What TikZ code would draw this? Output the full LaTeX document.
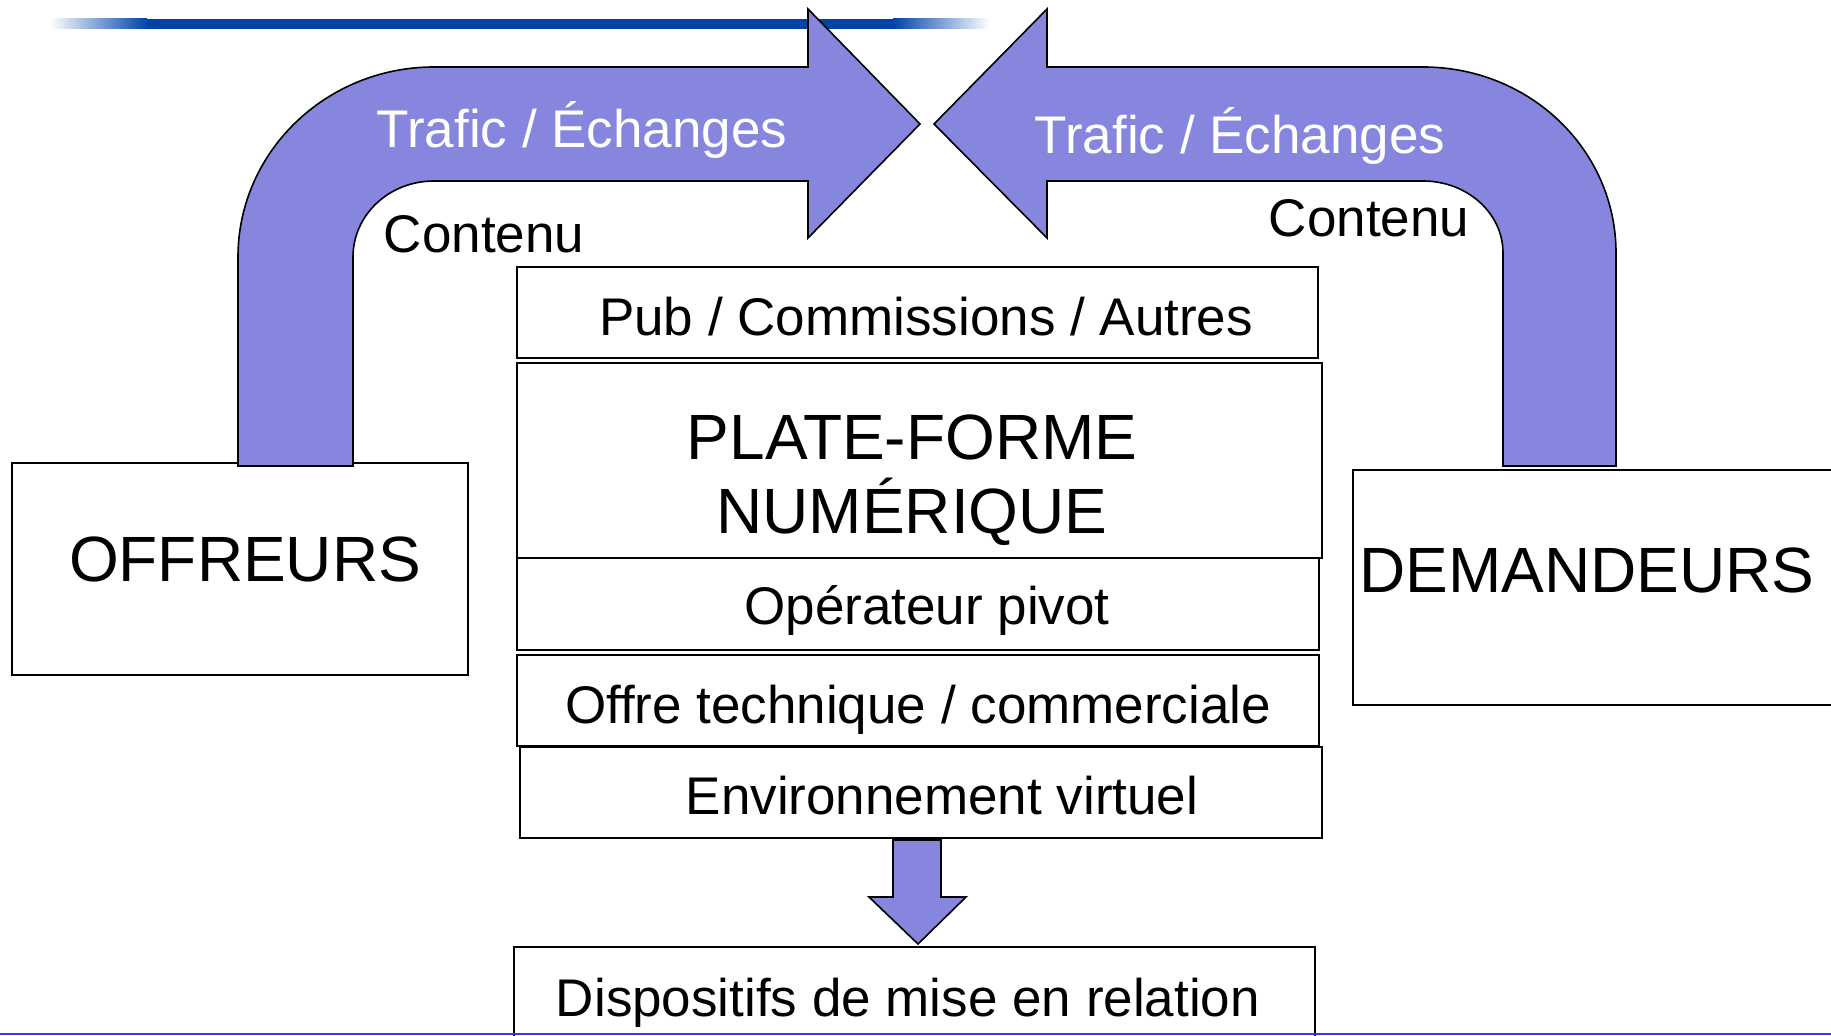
\documentclass[tikz,border=0pt]{standalone}
\usepackage{fontspec}
\setmainfont{Liberation Sans}
\definecolor{arrowfill}{RGB}{134,134,222}
\definecolor{topblue}{RGB}{0,68,170}
\definecolor{footblue}{RGB}{55,55,240}
\tikzset{
  box/.style={draw=black, line width=1pt, fill=white, inner sep=0pt},
  bigarrow/.style={draw=black, line width=0.8pt, fill=arrowfill, line join=miter},
  lbl/.style={inner sep=0pt, anchor=base, font=\fontsize{26.5}{30}\selectfont},
  biglbl/.style={inner sep=0pt, anchor=base, font=\fontsize{32}{36}\selectfont},
}
\begin{document}
\begin{tikzpicture}[x=0.5pt, y=-0.5pt]
\useasboundingbox (0,0) rectangle (1831,1036);

% header rule with faded ends
\shade[left color=white, right color=topblue] (50,19) rectangle (147,29);
\fill[topblue] (147,19) rectangle (893,29);
\shade[left color=topblue, right color=white] (893,19) rectangle (990,29);

% side boxes
\node[box, minimum width=228pt, minimum height=106pt] (offreurs) at (240,569) {};
\node[biglbl] (offreursT) at (245,582) {OFFREURS};
\node[box, minimum width=243.5pt, minimum height=117.5pt] (demandeurs) at (1596.5,587.5) {};
\node[biglbl] (demandeursT) at (1587,593) {DEMANDEURS};

% bent arrow from the offer side
\draw[bigarrow] (238,466) -- (238,257)
  .. controls (238,152) and (326,67) .. (434,67)
  -- (808,67) -- (808,9) -- (920,124) -- (808,238) -- (808,181) -- (434,181)
  .. controls (389,181) and (353,215) .. (353,257)
  -- (353,466) -- cycle;

% bent arrow from the demand side
\draw[bigarrow] (1503,466) -- (1503,253)
  .. controls (1503,213) and (1467,181) .. (1423,181)
  -- (1047,181) -- (1047,238) -- (934,124) -- (1047,9) -- (1047,67) -- (1423,67)
  .. controls (1530,67) and (1616,150) .. (1616,253)
  -- (1616,466) -- cycle;

\node[lbl, text=white] (traficL) at (582,148) {Trafic / Échanges};
\node[lbl, text=white] (traficR) at (1240,154) {Trafic / Échanges};
\node[lbl] (contenuL) at (484,253) {Contenu};
\node[lbl] (contenuR) at (1369,237) {Contenu};

% platform stack
\node[box, minimum width=400.5pt, minimum height=45.5pt] (pub) at (917.5,312.5) {};
\node[lbl] (pubT) at (926,336) {Pub / Commissions / Autres};
\node[box, minimum width=402.5pt, minimum height=97.5pt] (plateforme) at (919.5,460.5) {};
\node[biglbl] (plateformeA) at (912,460) {PLATE-FORME};
\node[biglbl] (plateformeB) at (912,534) {NUMÉRIQUE};
\node[box, minimum width=401pt, minimum height=46pt] (operateur) at (918,604) {};
\node[lbl] (operateurT) at (927,625) {Opérateur pivot};
\node[box, minimum width=401pt, minimum height=45.5pt] (offre) at (918,700.5) {};
\node[lbl] (offreT) at (918,724) {Offre technique / commerciale};
\node[box, minimum width=401pt, minimum height=45.5pt] (env) at (921,792.5) {};
\node[lbl] (envT) at (942,814) {Environnement virtuel};

% downward arrow to the matching devices
\draw[bigarrow] (893,840) -- (941,840) -- (941,897) -- (966,897) -- (918,944)
  -- (869,897) -- (893,897) -- cycle;

\node[box, minimum width=400.5pt, minimum height=49pt] (dispositifs) at (914.5,996) {};
\node[lbl] (dispositifsT) at (908,1016) {Dispositifs de mise en relation};

% footer rule
\draw[footblue, line width=1.3pt] (0,1034) -- (1831,1034);
\end{tikzpicture}
\end{document}
